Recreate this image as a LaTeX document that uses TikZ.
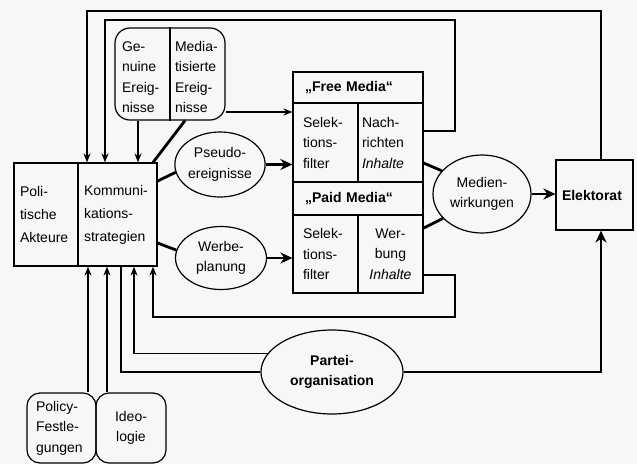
\documentclass[tikz,border=0pt]{standalone}
\usepackage{fontspec}
\setmainfont{Liberation Sans}
\usetikzlibrary{shapes.geometric,arrows.meta,calc}
\definecolor{paper}{RGB}{247,247,245}
\tikzset{
  txt/.style={font=\fontsize{14}{20.5}\selectfont},
  cellbox/.style={draw, line width=1.2pt, txt, inner ysep=0pt, align=left},
  plain/.style={txt, inner ysep=0pt, align=left},
  ell/.style={draw, ellipse, line width=1.2pt, txt, align=center, inner sep=0pt},
  rbox/.style={draw, rounded corners=13pt, line width=1.2pt, txt, inner ysep=0pt},
  thinarr/.style={line width=1.2pt, -{Stealth[length=9pt,width=7pt]}},
  thickln/.style={line width=2.8pt},
  thickarr/.style={line width=2.8pt, -{Stealth[length=12pt,width=11pt]}},
}
\begin{document}
\begin{tikzpicture}[x=1pt,y=-1pt]
\fill[paper] (0,0) rectangle (637,464);
\useasboundingbox (0,0) rectangle (637,464);

% left box
\node[cellbox, font=\fontsize{14}{23}\selectfont, minimum width=64pt, minimum height=103pt, text width=52pt, inner xsep=6pt] (pa) at (46,214.5) {Poli-\\tische\\Akteure};
\node[cellbox, font=\fontsize{14}{23}\selectfont, minimum width=79pt, minimum height=103pt, text width=67pt, inner xsep=6pt] (ks) at (117.5,214.5) {Kommuni-\\kations-\\strategien};

% events box
\node[rbox, rounded corners=15pt, minimum width=110pt, minimum height=92pt] (ev) at (170,74) {};
\draw[line width=1.2pt] (ev.north) -- (ev.south);
\node[plain, text width=41pt, inner xsep=7pt] (gen) at (142.5,77) {Ge-\\nuine\\Ereig-\\nisse};
\node[plain, text width=45pt, inner xsep=5pt] (med) at (197.5,77) {Media-\\tisierte\\Ereig-\\nisse};

% free media
\node[cellbox, minimum width=130pt, minimum height=31pt, text width=106pt, inner xsep=12pt, font=\fontsize{14}{20.5}\selectfont\bfseries] (fh) at (358,87.5) {„Free Media“};
\node[cellbox, minimum width=65pt, minimum height=79pt, text width=45pt, inner xsep=10pt] (sf1) at (325.5,142.5) {Selek-\\tions-\\filter};
\node[cellbox, minimum width=65pt, minimum height=79pt, text width=57pt, inner xsep=4pt] (nr) at (390.5,142.5) {Nach-\\richten\\\textit{Inhalte}};

% paid media
\node[cellbox, minimum width=130pt, minimum height=33pt, text width=106pt, inner xsep=12pt, font=\fontsize{14}{20.5}\selectfont\bfseries] (ph) at (358,198.5) {„Paid Media“};
\node[cellbox, minimum width=65pt, minimum height=78pt, text width=45pt, inner xsep=10pt] (sf2) at (325.5,254) {Selek-\\tions-\\filter};
\node[cellbox, align=center, minimum width=65pt, minimum height=78pt, text width=57pt, inner xsep=4pt] (wb) at (390.5,254) {Wer-\\bung\\\textit{Inhalte}};

% ellipses
\node[ell, minimum width=90pt, minimum height=65pt] (ps) at (220,164.5) {Pseudo-\\ereignisse};
\node[ell, minimum width=91pt, minimum height=63pt] (wp) at (221,258) {Werbe-\\planung};
\node[ell, minimum width=98pt, minimum height=78pt] (mw) at (482,194) {Medien-\\wirkungen};
\node[ell, minimum width=142pt, minimum height=84pt, font=\fontsize{14}{20.5}\selectfont\bfseries] (po) at (332,372) {Partei-\\organisation};

% Elektorat
\node[cellbox, minimum width=77pt, minimum height=70pt, text width=65pt, inner xsep=6pt, font=\fontsize{14}{20.5}\selectfont\bfseries] (el) at (594.5,195) {Elektorat};

% bottom boxes
\node[rbox, align=left, minimum width=69pt, minimum height=70pt, text width=51pt, inner xsep=9pt] (pf) at (61.5,428) {Policy-\\Festle-\\gungen};
\node[rbox, align=center, minimum width=70pt, minimum height=70pt, text width=52pt, inner xsep=9pt] (id) at (131,428) {Ideo-\\logie};

% helper coordinates
\coordinate (ta) at (601,11);
\coordinate (tb) at (87,11);
\coordinate (sa) at (455,20);
\coordinate (sb) at (105,20);
\coordinate (sc) at (455,131);
\coordinate (gx) at (138,0);
\coordinate (mx) at (185,0);
\coordinate (kt) at (153,0);
\coordinate (my) at (0,112);
\coordinate (kp) at (0,181);
\coordinate (kw) at (0,243);
\coordinate (nm) at (0,163);
\coordinate (wm) at (0,228);
\coordinate (pa1) at (455,275);
\coordinate (pb1) at (455,317);
\coordinate (pc1) at (153,317);
\coordinate (qa) at (134,0);
\coordinate (qb) at (121,0);
\coordinate (ra) at (88,0);
\coordinate (rb) at (107,0);

% feedback loops
\draw[thinarr] (el.north -| ta) -- (ta) -- (tb) -- (tb |- ks.north);
\draw[thinarr] (nr.east |- sc) -- (sc) -- (sa) -- (sb) -- (sb |- ks.north);
\draw[thinarr] (wb.east |- pa1) -- (pa1) -- (pb1) -- (pc1) -- (pc1 |- ks.south);

% events
\draw[thinarr] (ev.south -| gx) -- (gx |- ks.north);
\draw[thickln] (ev.south -| mx) -- (ks.north -| kt);
\draw[thinarr] (ev.east |- my) -- (sf1.west |- my);

% strategies
\draw[thickln] (ks.east |- kp) -- (ps.190);
\draw[thickln] (ks.east |- kw) -- (wp.170);
\draw[thickarr] (ps.east) -- (sf1.west |- ps.east);
\draw[thickarr] (wp.east) -- (sf2.west |- wp.east);

% media effects
\draw[thickln] (nr.east |- nm) -- (mw.150);
\draw[thickln] (wb.east |- wm) -- (mw.212);
\draw[thickarr] (mw.east) -- (el.west |- mw.east);

% party organisation
\draw[thinarr] (po.164) -| (qa |- ks.south);
\draw[thickln] (po.west) -| (qb |- ks.south);
\draw[thickarr] (po.east) -| (el.south -| ta);

% policy, ideology
\draw[thinarr] (pf.north -| ra) -- (ra |- ks.south);
\draw[thinarr] (id.north -| rb) -- (rb |- ks.south);
\end{tikzpicture}
\end{document}
